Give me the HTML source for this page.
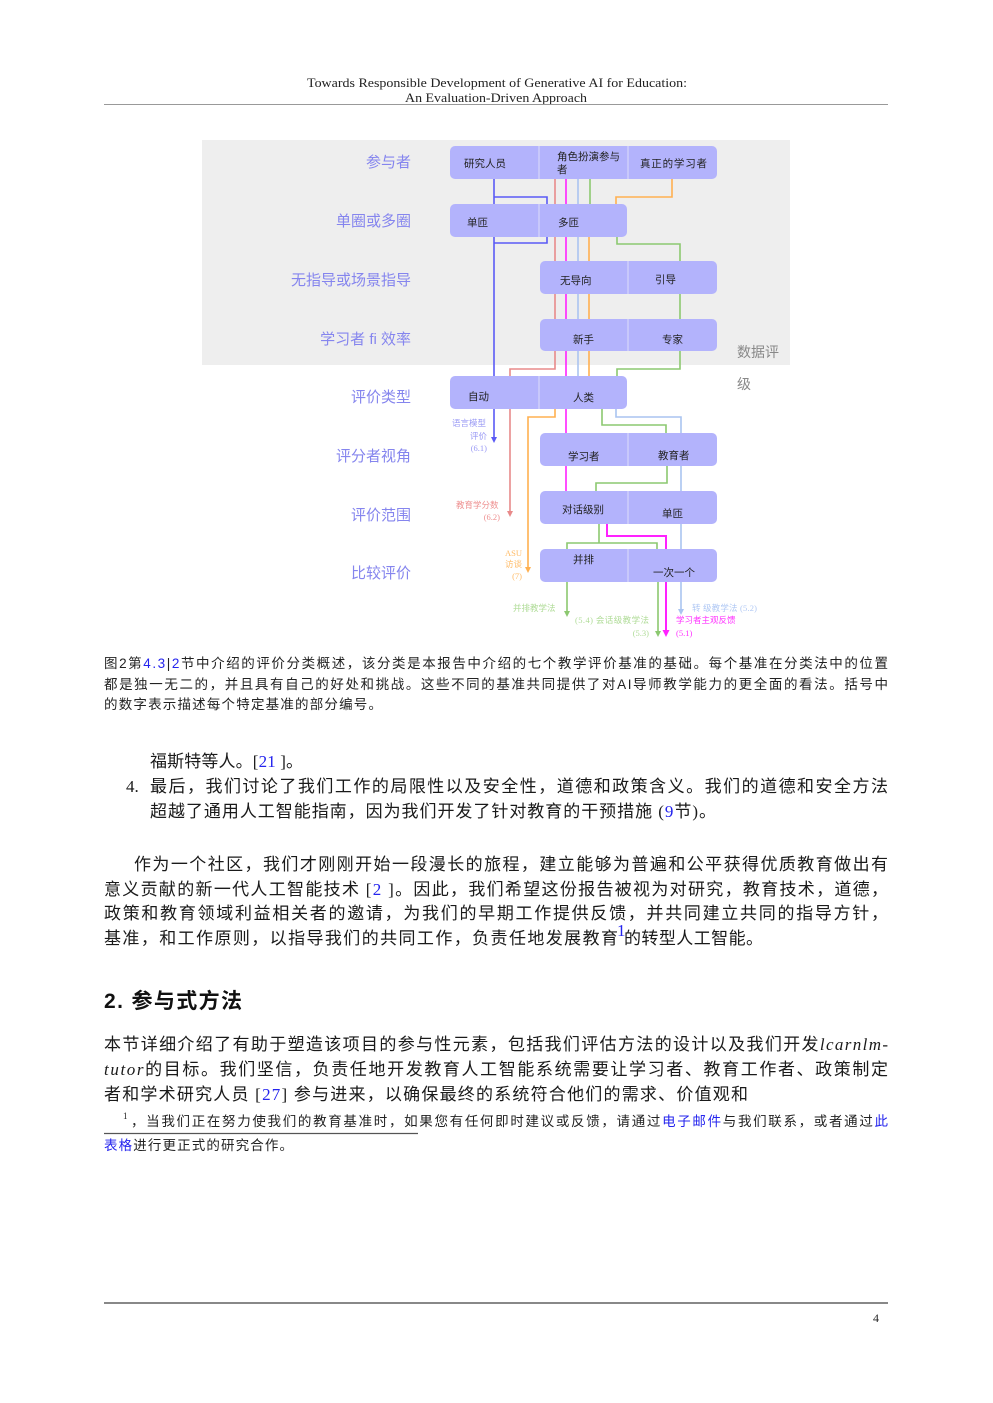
<!DOCTYPE html>
<html>
<head>
<meta charset="utf-8">
<style>
  html, body { margin:0; padding:0; background:#ffffff; }
  body { width:993px; height:1403px; position:relative; overflow:hidden; }
  svg { position:absolute; left:0; top:0; }
  .serif { font-family:"Liberation Serif","Noto Sans CJK SC",serif; }
  .sans { font-family:"Liberation Sans","Noto Sans CJK SC",sans-serif; }
  .body { font-family:"Liberation Serif","Noto Sans CJK SC",serif; font-size:17px; fill:#1a1a1a; }
  .rowlab { font-family:"Liberation Sans","Noto Sans CJK SC",sans-serif; font-size:15px; fill:#8585ee; }
  .box { font-family:"Liberation Sans","Noto Sans CJK SC",sans-serif; font-size:10.5px; fill:#222; }
  .ann { font-family:"Liberation Serif","Noto Sans CJK SC",serif; font-size:8.5px; }
  .lnk { fill:#2424ee; }
</style>
</head>
<body>
<svg width="993" height="1403" viewBox="0 0 993 1403" xmlns="http://www.w3.org/2000/svg">
  <!-- Header -->
  <text class="serif" x="307" y="87" font-size="12.5" fill="#222" textLength="380" lengthAdjust="spacingAndGlyphs">Towards Responsible Development of Generative AI for Education:</text>
  <text class="serif" x="405" y="102" font-size="12.5" fill="#222" textLength="182" lengthAdjust="spacingAndGlyphs">An Evaluation-Driven Approach</text>
  <line x1="104" y1="104.5" x2="888" y2="104.5" stroke="#999" stroke-width="1"/>

  <!-- Diagram background -->
  <rect x="202" y="140" width="588" height="225" fill="#eeeeee"/>

  <!-- Row labels -->
  <text class="rowlab" x="411" y="167" text-anchor="end">参与者</text>
  <text class="rowlab" x="411" y="226" text-anchor="end">单圈或多圈</text>
  <text class="rowlab" x="411" y="285" text-anchor="end">无指导或场景指导</text>
  <text class="rowlab" x="411" y="344" text-anchor="end">学习者 fi 效率</text>
  <text class="rowlab" x="411" y="402" text-anchor="end">评价类型</text>
  <text class="rowlab" x="411" y="461" text-anchor="end">评分者视角</text>
  <text class="rowlab" x="411" y="520" text-anchor="end">评价范围</text>
  <text class="rowlab" x="411" y="578" text-anchor="end">比较评价</text>

  <text class="sans" x="737" y="357" font-size="14" fill="#888">数据评</text>
  <text class="sans" x="737" y="389" font-size="14" fill="#888">级</text>

  <!-- Connector lines -->
  <g fill="none" stroke-width="1.6">
    <path d="M494 179 V438" stroke="#5a5af5"/>
    <path d="M494 197 H547 V204" stroke="#5a5af5"/>
    <path d="M547 237 V243 H494" stroke="#5a5af5"/>
    <path d="M555 179 V369 H510 V512" stroke="#e88a8a"/>
    <path d="M566 179 V491" stroke="#ff22ff"/>
    <path d="M607 524 V536 H666 V632" stroke="#ff22ff" stroke-width="2"/>
    <path d="M578 179 V376" stroke="#aac4f0"/>
    <path d="M616 409 V417 H681 V610" stroke="#aac4f0"/>
    <path d="M672 179 V197 H616 V204" stroke="#ffb050"/>
    <path d="M589 237 V376" stroke="#ffb050"/>
    <path d="M555 409 V417 H528 V568" stroke="#ffb050"/>
    <path d="M590 179 V204" stroke="#8cc870"/>
    <path d="M617 237 V244 H680 V262" stroke="#8cc870"/>
    <path d="M680 294 V319" stroke="#8cc870"/>
    <path d="M680 351 V369 H617 V376" stroke="#8cc870"/>
    <path d="M602 409 V425 H666 V433" stroke="#8cc870"/>
    <path d="M667 466 V483 H596 V491" stroke="#8cc870"/>
    <path d="M599 524 V543" stroke="#8cc870"/>
    <path d="M567 549 V543 H657 V549" stroke="#8cc870"/>
    <path d="M567 582 V612" stroke="#8cc870"/>
    <path d="M658 582 V632" stroke="#8cc870"/>
  </g>
  <!-- Arrowheads -->
  <polygon points="491,437 497,437 494,443" fill="#5a5af5"/>
  <polygon points="507,511 513,511 510,517" fill="#e88a8a"/>
  <polygon points="525,567 531,567 528,573" fill="#ffb050"/>
  <polygon points="564,611 570,611 567,617" fill="#8cc870"/>
  <polygon points="655,631 661,631 658,637" fill="#8cc870"/>
  <polygon points="662.5,630 669.5,630 666,637" fill="#ff22ff"/>
  <polygon points="678,609 684,609 681,615" fill="#aac4f0"/>

  <!-- Boxes -->
  <g fill="#b3b3fc">
    <rect x="450" y="146" width="267" height="33" rx="5"/>
    <rect x="450" y="204" width="177" height="33" rx="5"/>
    <rect x="540" y="261" width="177" height="33" rx="5"/>
    <rect x="540" y="319" width="177" height="32" rx="5"/>
    <rect x="450" y="376" width="177" height="33" rx="5"/>
    <rect x="540" y="433" width="177" height="33" rx="5"/>
    <rect x="540" y="491" width="177" height="33" rx="5"/>
    <rect x="540" y="549" width="177" height="33" rx="5"/>
  </g>
  <g stroke="#dcdcfa" stroke-width="1">
    <line x1="539" y1="146" x2="539" y2="179"/>
    <line x1="628" y1="146" x2="628" y2="179"/>
    <line x1="539" y1="204" x2="539" y2="237"/>
    <line x1="628" y1="261" x2="628" y2="294"/>
    <line x1="628" y1="319" x2="628" y2="351"/>
    <line x1="539" y1="376" x2="539" y2="409"/>
    <line x1="628" y1="433" x2="628" y2="466"/>
    <line x1="628" y1="491" x2="628" y2="524"/>
    <line x1="628" y1="549" x2="628" y2="582"/>
  </g>

  <!-- Box labels -->
  <text class="box" x="464" y="167">研究人员</text>
  <text class="box" x="557" y="160" font-size="8.5">角色扮演参与</text>
  <text class="box" x="557" y="173" font-size="8.5">者</text>
  <text class="box" x="640" y="167" textLength="67">真正的学习者</text>
  <text class="box" x="467" y="226">单匝</text>
  <text class="box" x="558" y="226">多匝</text>
  <text class="box" x="560" y="284">无导向</text>
  <text class="box" x="655" y="283">引导</text>
  <text class="box" x="573" y="343">新手</text>
  <text class="box" x="662" y="343">专家</text>
  <text class="box" x="468" y="400">自动</text>
  <text class="box" x="573" y="401">人类</text>
  <text class="box" x="568" y="460">学习者</text>
  <text class="box" x="658" y="459">教育者</text>
  <text class="box" x="562" y="513">对话级别</text>
  <text class="box" x="662" y="517">单匝</text>
  <text class="box" x="573" y="563">并排</text>
  <text class="box" x="653" y="576">一次一个</text>

  <!-- Annotations -->
  <text class="ann" x="452" y="426" fill="#9a9af5">语言模型</text>
  <text class="ann" x="487" y="439" fill="#9a9af5" text-anchor="end">评价</text>
  <text class="ann" x="487" y="451" fill="#9a9af5" text-anchor="end">(6.1)</text>
  <text class="ann" x="456" y="508" fill="#ee9090">教育学分数</text>
  <text class="ann" x="500" y="520" fill="#ee9090" text-anchor="end">(6.2)</text>
  <text class="ann" x="522" y="556" fill="#ffbb66" text-anchor="end">ASU</text>
  <text class="ann" x="522" y="567" fill="#ffbb66" text-anchor="end">访谈</text>
  <text class="ann" x="522" y="579" fill="#ffbb66" text-anchor="end">(7)</text>
  <text class="ann" x="513" y="611" fill="#b0dc98">并排教学法</text>
  <text class="ann" x="575" y="623" fill="#b0dc98" textLength="74">(5.4) 会话级教学法</text>
  <text class="ann" x="649" y="636" fill="#b0dc98" text-anchor="end">(5.3)</text>
  <text class="ann" x="692" y="611" fill="#b0c8f4" textLength="65">转 级教学法 (5.2)</text>
  <text class="ann" x="676" y="623" fill="#ff33ff">学习者主观反馈</text>
  <text class="ann" x="676" y="636" fill="#ff33ff">(5.1)</text>

  <!-- Caption -->
  <g class="sans" font-size="13.5" fill="#222">
    <text x="104" y="668" textLength="784" lengthAdjust="spacing">图2第<tspan class="lnk">4.3</tspan>|<tspan class="lnk">2</tspan>节中介绍的评价分类概述，该分类是本报告中介绍的七个教学评价基准的基础。每个基准在分类法中的位置</text>
    <text x="104" y="689" textLength="784" lengthAdjust="spacing">都是独一无二的，并且具有自己的好处和挑战。这些不同的基准共同提供了对AI导师教学能力的更全面的看法。括号中</text>
    <text x="104" y="709" textLength="278" lengthAdjust="spacing">的数字表示描述每个特定基准的部分编号。</text>
  </g>

  <!-- Body list -->
  <text class="body" x="150" y="767" textLength="153" lengthAdjust="spacing">福斯特等人。[<tspan class="lnk">21</tspan> ]。</text>
  <text class="body" x="126" y="792">4.</text>
  <text class="body" x="150" y="792" textLength="738" lengthAdjust="spacing">最后，我们讨论了我们工作的局限性以及安全性，道德和政策含义。我们的道德和安全方法</text>
  <text class="body" x="150" y="817" textLength="566" lengthAdjust="spacing">超越了通用人工智能指南，因为我们开发了针对教育的干预措施 (<tspan class="lnk">9</tspan>节)。</text>

  <!-- Paragraph 1 -->
  <text class="body" x="134" y="870" textLength="754" lengthAdjust="spacing">作为一个社区，我们才刚刚开始一段漫长的旅程，建立能够为普遍和公平获得优质教育做出有</text>
  <text class="body" x="104" y="895" textLength="784" lengthAdjust="spacing">意义贡献的新一代人工智能技术 [<tspan class="lnk">2</tspan> ]。因此，我们希望这份报告被视为对研究，教育技术，道德，</text>
  <text class="body" x="104" y="919" textLength="784" lengthAdjust="spacing">政策和教育领域利益相关者的邀请，为我们的早期工作提供反馈，并共同建立共同的指导方针，</text>
  <text class="body" x="104" y="944" textLength="514" lengthAdjust="spacing">基准，和工作原则，以指导我们的共同工作，负责任地发展教育</text>
  <text class="body" x="617" y="936" font-size="10"><tspan class="lnk">1</tspan></text>
  <text class="body" x="624" y="944" textLength="139" lengthAdjust="spacing">的转型人工智能。</text>

  <!-- Heading -->
  <text class="sans" x="104" y="1008" font-size="21" font-weight="bold" fill="#111" textLength="138" lengthAdjust="spacing">2. 参与式方法</text>

  <!-- Paragraph 2 -->
  <text class="body" x="104" y="1050" textLength="784" lengthAdjust="spacing">本节详细介绍了有助于塑造该项目的参与性元素，包括我们评估方法的设计以及我们开发<tspan font-style="italic">lcarnlm-</tspan></text>
  <text class="body" x="104" y="1075" textLength="784" lengthAdjust="spacing"><tspan font-style="italic">tutor</tspan>的目标。我们坚信，负责任地开发教育人工智能系统需要让学习者、教育工作者、政策制定</text>
  <text class="body" x="104" y="1100" textLength="644" lengthAdjust="spacing">者和学术研究人员 [<tspan class="lnk">27</tspan>] 参与进来，以确保最终的系统符合他们的需求、价值观和</text>

  <!-- Footnote -->
  <text class="serif" x="123" y="1119" font-size="9" fill="#222">1</text>
  <text class="serif" x="131" y="1126" font-size="13.5" fill="#222" textLength="757" lengthAdjust="spacing">，当我们正在努力使我们的教育基准时，如果您有任何即时建议或反馈，请通过<tspan class="lnk">电子邮件</tspan>与我们联系，或者通过<tspan class="lnk">此</tspan></text>
  <line x1="104" y1="1133.5" x2="418" y2="1133.5" stroke="#555" stroke-width="1.2"/>
  <text class="serif" x="104" y="1150" font-size="13.5" fill="#222" textLength="189" lengthAdjust="spacing"><tspan class="lnk">表格</tspan>进行更正式的研究合作。</text>

  <!-- Footer -->
  <line x1="104" y1="1303" x2="888" y2="1303" stroke="#888" stroke-width="2"/>
  <text class="serif" x="873" y="1322" font-size="12" fill="#222">4</text>
</svg>
</body>
</html>
